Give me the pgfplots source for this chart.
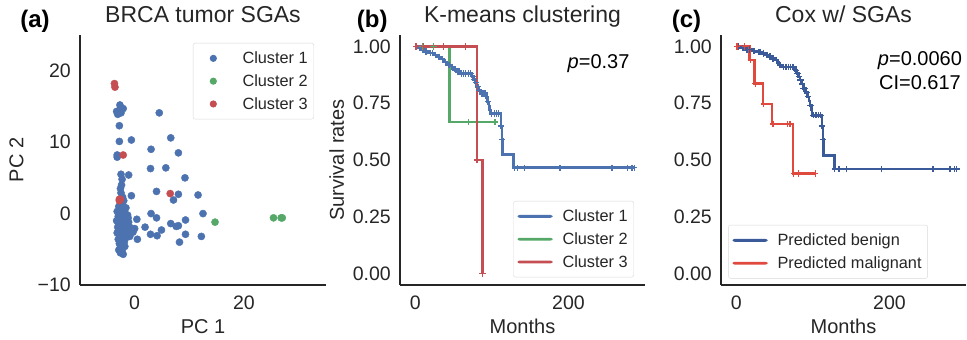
\documentclass[border=0pt]{standalone}
\usepackage{fontspec}
\setmainfont{Liberation Sans}
\usepackage{pgfplots}
\pgfplotsset{compat=1.18}
\definecolor{sblue}{HTML}{4C72B0}
\definecolor{sgreen}{HTML}{55A868}
\definecolor{sred}{HTML}{C44E52}
\definecolor{cblue}{HTML}{3A5A9A}
\definecolor{cred}{HTML}{E0493D}
\definecolor{txt}{HTML}{262626}
\pgfplotsset{
 base/.style={
  scale only axis, width=245pt, height=250pt,
  axis x line*=bottom, axis y line*=left,
  axis line style={txt, line width=1.2pt},
  major tick length=0pt,
  tick label style={font=\fontsize{19.5}{22}\selectfont, text=txt},
  xticklabel style={inner sep=0pt, yshift=-11pt, anchor=north},
  yticklabel style={inner sep=0pt, xshift=-9pt, anchor=east},
  label style={font=\fontsize{20}{23}\selectfont, text=txt},
  xlabel style={at={(axis description cs:0.5,-0.193)}, anchor=base},
  ylabel style={at={(axis description cs:-0.258,0.5)}, anchor=center, rotate=0},
  title style={font=\fontsize{23}{26}\selectfont, text=txt, at={(axis description cs:0.5,1.027)}, anchor=base},
  clip=false,
  legend style={font=\fontsize{16.3}{19}\selectfont, text=txt, draw=black!15, rounded corners=2pt, fill=white,
    inner xsep=4pt, inner ysep=6.5pt, row sep=5.5pt, column sep=8pt, nodes={inner sep=2pt}},
  legend cell align=left,
 },
 km/.style={base, xmin=-20, xmax=300, ymin=-0.05, ymax=1.05,
  xtick={0,200}, xticklabels={0,200},
  ytick={0,0.25,0.5,0.75,1}, yticklabels={0.00,0.25,0.50,0.75,1.00},
 },
 kmline/.style={const plot, line width=2.6pt, no marks,
  legend image code/.code={\path[fill=#1, draw=none] (0pt,-1.4pt) rectangle (35pt,1.4pt);}},
 cens/.style={only marks, mark=+, mark size=3.2pt, mark options={line width=1.2pt}, forget plot},
 scat/.style={only marks, mark=*, mark size=3.6pt, mark options={draw=none, fill=#1}, color=#1,
  legend image code/.code={\path (0pt,0pt) (35pt,0pt); \path[fill=#1, draw=none] (16pt,0pt) circle (3.6pt);}},
}
\begin{document}
\begin{tikzpicture}
\useasboundingbox (0,0) rectangle (967pt,340pt);
% ---------------- (a)
\begin{axis}[base, at={(80pt,55pt)}, anchor=south west, width=246pt,
  xmin=-10, xmax=35, ymin=-10, ymax=25,
  xtick={0,20}, xticklabels={0,20},
  ytick={-10,0,10,20}, yticklabels={−10,0,10,20},
  xlabel={PC 1}, ylabel={PC 2}, title={BRCA tumor SGAs},
  legend style={at={(0.459,0.968)}, anchor=north west}]
\addplot[scat=sblue] coordinates {
(-2.7,14.5) (-3.3,14.3) (-2.7,15.2) (-2.1,14.7) (-3.1,13.9) (-2.5,14.1) (4.5,14.1)
(-2.8,12.3) (-2.8,10.1) (-0.6,10.3) (6.6,10.6) (3.0,9.0) (8.0,8.5) (-3.2,8.2) (-3.2,7.9)
(2.9,6.3) (5.7,6.4) (9.2,5.0) (-2.5,5.5) (-2.3,4.8) (-1.1,5.4) (-2.6,3.5) (-2.5,2.9)
(-0.6,2.5) (4.0,3.1) (8.0,2.7) (7.1,1.9) (11.6,2.6) (12.5,0.0) (3.0,0.0) (4.0,-0.6)
(0.4,-0.8) (9.3,-0.9) (6.6,-1.4) (7.6,-1.8) (8.0,-1.7) (1.9,-1.9) (0.0,-2.1) (4.9,-2.3)
(2.9,-2.9) (4.1,-3.1) (9.3,-2.9) (12.2,-3.2) (8.2,-4.0) (0.5,-3.6) (-0.9,-3.2) (-0.3,-2.6)
(-2.4,4.0) (-2.2,2.3) (-2.0,1.8)
(-2.9,1.0) (-2.2,1.2) (-1.6,0.8) (-2.6,0.5) (-3.2,0.3) (-1.9,0.2) (-2.4,-0.1) (-1.3,-0.2)
(-3.0,-0.4) (-2.0,-0.5) (-2.7,-0.8) (-1.6,-0.9) (-3.3,-1.0) (-2.3,-1.1) (-1.1,-1.2)
(-2.9,-1.4) (-1.9,-1.5) (-2.5,-1.7) (-1.4,-1.8) (-3.1,-1.9) (-2.2,-2.0) (-2.8,-2.3)
(-1.7,-2.3) (-1.0,-2.5) (-2.4,-2.6) (-3.2,-2.7) (-2.0,-2.9) (-1.4,-3.0) (-2.7,-3.1)
(-2.2,-3.4) (-1.7,-3.5) (-3.0,-3.6) (-2.5,-3.8) (-1.9,-4.0) (-2.8,-4.2) (-2.2,-4.4)
(-2.6,-4.7) (-1.8,-4.6) (-2.9,-5.1) (-2.3,-5.2) (-2.1,-5.7) (-2.6,-5.5) (-1.5,-1.4)
(-2.0,-0.8) (-1.2,-0.6) (-2.5,0.9) (-1.8,-2.7) (-0.9,-1.9)
};
\addlegendentry{Cluster 1}
\addplot[scat=sgreen] coordinates {(14.7,-1.2) (25.4,-0.6) (26.8,-0.6) (27.0,-0.6)};
\addlegendentry{Cluster 2}
\addplot[scat=sred] coordinates {(-3.7,18.2) (-3.6,17.7) (-2.1,8.2) (-2.8,2.0) (-2.8,1.8) (-2.6,2.0) (6.5,2.8)};
\addlegendentry{Cluster 3}
\node[anchor=base west, font=\bfseries\fontsize{24}{27}\selectfont, text=black] at (rel axis cs:-0.257,1.03) {(a)};
\end{axis}
% ---------------- (b)
\begin{axis}[km, at={(400pt,55pt)}, anchor=south west,
  xlabel={Months}, ylabel={Survival rates}, title={K-means clustering},
  legend style={at={(0.4625,0.336)}, anchor=north west}]
\addplot[kmline=sblue, color=sblue] coordinates {
(0,1.0) (3,0.993) (8,0.986) (12,0.978) (17,0.970) (24,0.962) (29,0.954) (33,0.944)
(37,0.932) (41,0.918) (46,0.910) (50,0.898) (53,0.889) (58,0.881) (74,0.868) (76,0.855)
(78,0.840) (80,0.822) (83,0.806) (85,0.793) (93,0.775) (94,0.756) (96,0.738) (97,0.720)
(98,0.705) (112,0.650) (113,0.590) (114,0.524) (128.5,0.466) (286,0.466)};
\addlegendentry{Cluster 1}
\addplot[kmline=sgreen, color=sgreen] coordinates {(0,1) (45,0.667) (104,0.667)};
\addlegendentry{Cluster 2}
\addplot[kmline=sred, color=sred] coordinates {(0,1) (80.6,0.5) (88,0.0)};
\addlegendentry{Cluster 3}
\addplot[cens, sblue] coordinates {
(2,1.0) (5,0.993) (6,0.993) (10,0.986) (14,0.978) (15,0.978) (20,0.970) (22,0.970)
(26,0.962) (31,0.954) (35,0.944) (39,0.932) (43,0.918) (44,0.918) (48,0.910) (52,0.898)
(55,0.889) (57,0.889) (60,0.881) (63,0.881) (66,0.881) (69,0.881) (72,0.881) (75,0.868)
(77,0.855) (79,0.840) (82,0.822) (84,0.806) (87,0.793) (89,0.793) (91,0.793) (95,0.756)
(100,0.705) (103,0.705) (106,0.705) (109,0.705) (112,0.65) (113,0.59) (130,0.466)
(133,0.466) (143,0.466) (189,0.466) (257,0.466) (277,0.466) (283,0.466) (286,0.466)};
\addplot[cens, sgreen] coordinates {(9,1) (24,1) (69,0.667) (104,0.667)};
\addplot[cens, sred] coordinates {(1,1) (11,1) (37,1) (66,1) (80.6,0.5) (88,0)};
\node[anchor=base east, font=\fontsize{20}{23}\selectfont, text=black] at (rel axis cs:0.951,0.867) {\textit{p}=0.37};
\node[anchor=base west, font=\bfseries\fontsize{24}{27}\selectfont, text=black] at (rel axis cs:-0.19,1.03) {(b)};
\end{axis}
% ---------------- (c)
\begin{axis}[km, at={(721pt,55pt)}, anchor=south west,
  xlabel={Months}, title={Cox w/ SGAs},
  legend style={at={(0.03,0.24)}, anchor=north west}]
\addplot[kmline=cblue, color=cblue] coordinates {
(0,1.0) (5,0.993) (11,0.986) (20,0.980) (26,0.975) (33,0.969) (38,0.962) (41,0.955)
(46,0.947) (50,0.940) (53,0.929) (55,0.918) (59,0.910) (77,0.895) (79,0.881) (81,0.866)
(83,0.852) (85,0.834) (87,0.815) (90,0.797) (93,0.778) (95,0.760) (96,0.741) (98,0.720)
(99,0.697) (112,0.65) (113,0.59) (114,0.521) (128.5,0.46) (287.6,0.46)};
\addlegendentry{Predicted benign}
\addplot[kmline=cred, color=cred] coordinates {(0,1) (17.4,0.94) (24,0.837) (35,0.746) (46.7,0.658) (74,0.44) (103,0.44)};
\addlegendentry{Predicted malignant}
\addplot[cens, cblue] coordinates {
(3,1.0) (8,0.993) (14,0.986) (17,0.986) (23,0.980) (29,0.975) (31,0.975) (36,0.969)
(40,0.962) (44,0.955) (48,0.947) (52,0.940) (57,0.918) (62,0.910) (65,0.910) (68,0.910)
(71,0.910) (74,0.910) (78,0.895) (80,0.881) (82,0.866) (84,0.852) (86,0.834) (88,0.815)
(89,0.815) (92,0.797) (94,0.778) (97,0.741) (101,0.697) (104,0.697) (107,0.697) (110,0.697)
(112,0.65) (113,0.59) (128.5,0.46) (134,0.46) (144,0.46) (190,0.46) (257,0.46) (279,0.46)
(285,0.46) (287.6,0.46)};
\addplot[cens, cred] coordinates {(1,1) (11,1) (19,0.94) (25,0.837) (36,0.746) (48,0.658) (67,0.658) (70,0.658) (75,0.44) (81,0.44) (103,0.44)};
\node[anchor=base, font=\fontsize{20}{23}\selectfont, text=black] at (rel axis cs:0.812,0.876) {\textit{p}=0.0060};
\node[anchor=base, font=\fontsize{20}{23}\selectfont, text=black] at (rel axis cs:0.812,0.783) {CI=0.617};
\node[anchor=base west, font=\bfseries\fontsize{24}{27}\selectfont, text=black] at (rel axis cs:-0.215,1.03) {(c)};
\end{axis}
\end{tikzpicture}
\end{document}
